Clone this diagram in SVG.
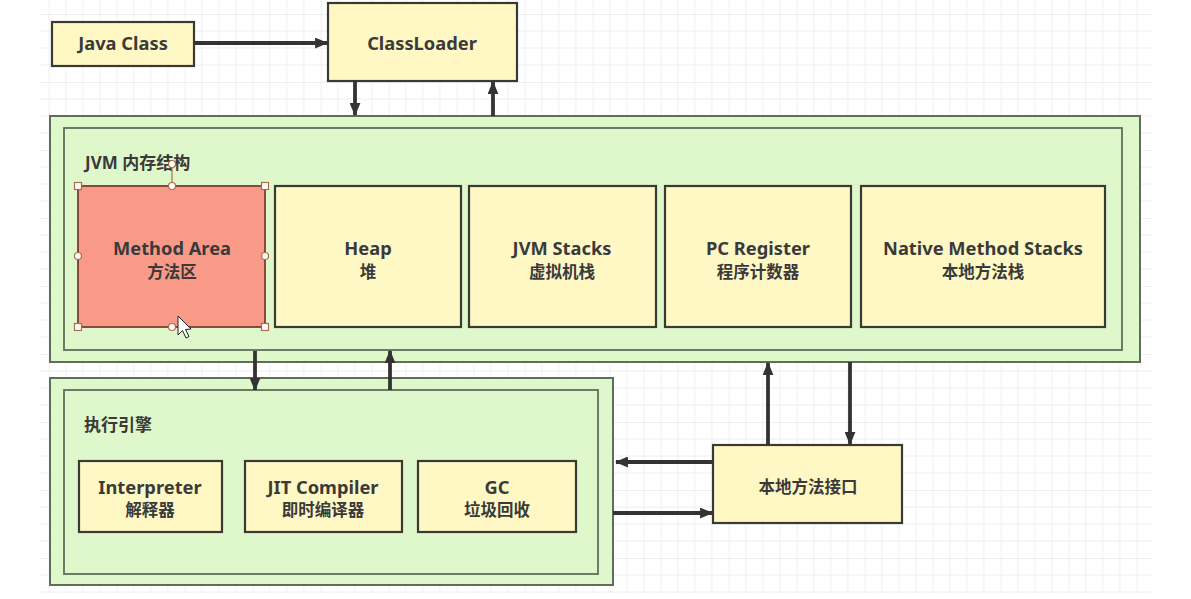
<svg xmlns="http://www.w3.org/2000/svg" width="1191" height="599" viewBox="0 0 1191 599">
<style>
.y{fill:#FFF8C4;stroke:#3a3a35;stroke-width:2.2}
.go{fill:#DFF8CB;stroke:#5e6e58;stroke-width:2}
.gi{fill:#DFF8CB;stroke:#5e6e58;stroke-width:1.8}
.t{font-family:"Noto Sans","Noto Sans CJK SC",sans-serif;font-weight:bold;font-size:18.3px;fill:#3a3a3a;text-anchor:middle}
.tc{font-family:"Noto Sans CJK SC","Noto Sans",sans-serif;font-weight:bold;font-size:16.5px;fill:#3a3a3a;text-anchor:middle}
.tl{font-family:"Noto Sans","Noto Sans CJK SC",sans-serif;font-weight:bold;font-size:17px;fill:#3a3a3a}
.c{stroke:#333;stroke-width:3.8;fill:none;marker-end:url(#ah)}
.h{fill:#fff;stroke:#B06A48;stroke-width:1.2}
</style>
<defs>
<pattern id="grid" x="48.7" y="14" width="68" height="68" patternUnits="userSpaceOnUse">
<path d="M17 0V68M34 0V68M51 0V68M0 17H68M0 34H68M0 51H68" stroke="#eeeeee" stroke-width="1" fill="none"/>
<path d="M0 0V68M0 0H68" stroke="#e2e2e2" stroke-width="1" fill="none"/>
</pattern>
<marker id="ah" viewBox="0 0 12 10" refX="11" refY="5" markerWidth="13" markerHeight="11" markerUnits="userSpaceOnUse" orient="auto">
<path d="M0 0L12 5L0 10Z" fill="#333"/>
</marker>
</defs>
<rect width="1191" height="599" fill="#fff"/>
<rect x="40" y="0" width="1112" height="593" fill="url(#grid)"/>

<g id="java-class"><rect class="y" x="52" y="22" width="142" height="44"/><text class="t" x="123" y="50">Java Class</text></g>
<g id="classloader"><rect class="y" x="328" y="3" width="189" height="78"/><text class="t" x="422" y="50">ClassLoader</text></g>

<g id="jvm-memory">
<rect class="go" x="50" y="116" width="1090" height="246"/>
<rect class="gi" x="64" y="128" width="1058" height="222"/>
<text class="tl" x="85" y="169">JVM 内存结构</text>
</g>
<g id="method-area"><rect x="78" y="186" width="187" height="141" fill="#F99A89" stroke="#7a3d30" stroke-width="1.8"/><text class="t" x="172" y="255">Method Area</text><text class="tc" x="172" y="278">方法区</text></g>
<g id="heap"><rect class="y" x="275" y="186" width="186" height="141"/><text class="t" x="368" y="255">Heap</text><text class="tc" x="368" y="278">堆</text></g>
<g id="jvm-stacks"><rect class="y" x="469" y="186" width="187" height="141"/><text class="t" x="562" y="255">JVM Stacks</text><text class="tc" x="562" y="278">虚拟机栈</text></g>
<g id="pc-register"><rect class="y" x="665" y="186" width="186" height="141"/><text class="t" x="758" y="255">PC Register</text><text class="tc" x="758" y="278">程序计数器</text></g>
<g id="native-method-stacks"><rect class="y" x="861" y="186" width="244" height="141"/><text class="t" x="983" y="255">Native Method Stacks</text><text class="tc" x="983" y="278">本地方法栈</text></g>

<g id="selection">
<line x1="172" y1="164" x2="172" y2="186" stroke="#B06A48" stroke-width="1.2"/>
<circle class="h" cx="172" cy="164" r="3.5"/>
<rect class="h" x="74.5" y="182.5" width="7" height="7"/><rect class="h" x="261.5" y="182.5" width="7" height="7"/>
<rect class="h" x="74.5" y="323.5" width="7" height="7"/><rect class="h" x="261.5" y="323.5" width="7" height="7"/>
<circle class="h" cx="172" cy="186" r="3.5"/><circle class="h" cx="78" cy="256" r="3.5"/>
<circle class="h" cx="265" cy="256" r="3.5"/><circle class="h" cx="172" cy="327" r="3.5"/>
<path d="M178 316V335L182.5 330.5L186 338L189 336.5L185.5 329.5L191 329Z" fill="#fff" stroke="#222" stroke-width="1"/>
</g>

<g id="execution-engine">
<rect class="go" x="50" y="378" width="563" height="207"/>
<rect class="gi" x="64" y="390" width="534" height="184"/>
<text class="tl" x="84" y="431">执行引擎</text>
</g>
<g id="interpreter"><rect class="y" x="79" y="461" width="143" height="71"/><text class="t" x="150" y="494">Interpreter</text><text class="tc" x="150" y="516">解释器</text></g>
<g id="jit-compiler"><rect class="y" x="245" y="461" width="157" height="71"/><text class="t" x="323" y="494">JIT Compiler</text><text class="tc" x="323" y="516">即时编译器</text></g>
<g id="gc"><rect class="y" x="418" y="461" width="158" height="71"/><text class="t" x="497" y="494">GC</text><text class="tc" x="497" y="516">垃圾回收</text></g>

<g id="native-interface"><rect class="y" x="713" y="445" width="189" height="78"/><text class="tc" x="808" y="493">本地方法接口</text></g>

<g id="connectors">
<line class="c" x1="194" y1="43" x2="327" y2="43"/>
<line class="c" x1="355" y1="81" x2="355" y2="115"/>
<line class="c" x1="493" y1="116" x2="493" y2="82"/>
<line class="c" x1="255" y1="351" x2="255" y2="390"/>
<line class="c" x1="390" y1="390" x2="390" y2="351"/>
<line class="c" x1="768" y1="445" x2="768" y2="363"/>
<line class="c" x1="850" y1="362" x2="850" y2="444"/>
<line class="c" x1="713" y1="462" x2="616" y2="462"/>
<line class="c" x1="613" y1="513" x2="712" y2="513"/>
</g>
</svg>
